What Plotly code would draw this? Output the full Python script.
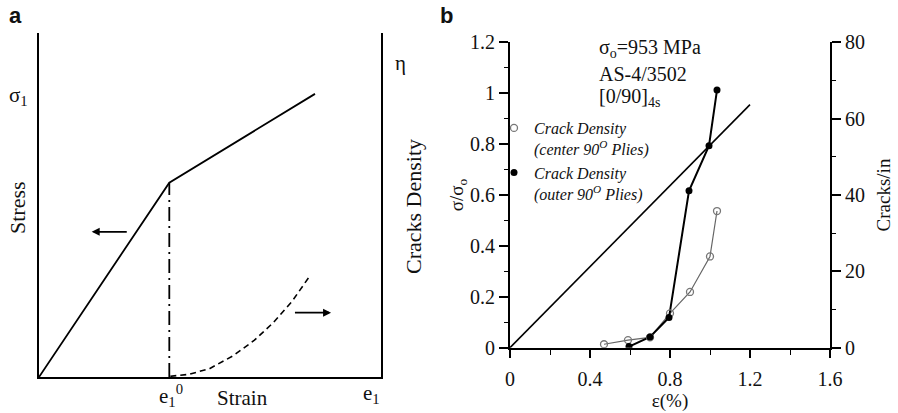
import plotly.graph_objects as go

# ---------------- data ----------------
# panel a (schematic, arbitrary units 0..10)
schem_strain = [0, 3.81, 8.07]
schem_stress = [0, 5.65, 8.23]
onset_strain = [3.81, 3.81]
onset_stress = [0, 5.65]
density_strain = [3.84, 4.4, 5.0, 5.68, 6.3, 6.85, 7.4, 7.92]
density_eta = [0.02, 0.08, 0.25, 0.62, 1.07, 1.58, 2.2, 2.94]

# panel b
line_strain = [0, 1.2]
line_stress = [0, 0.955]
center_strain = [0.47, 0.59, 0.70, 0.80, 0.90, 1.00, 1.035]
center_cracks = [0.9, 2.0, 2.7, 9.0, 14.6, 23.9, 35.8]
outer_strain = [0.595, 0.70, 0.795, 0.895, 0.995, 1.035]
outer_cracks = [0.3, 2.8, 7.9, 41.1, 52.9, 67.5]

x_ticks = [0, 0.4, 0.8, 1.2, 1.6]
y_ticks = [0, 0.2, 0.4, 0.6, 0.8, 1, 1.2]
y2_ticks = [0, 20, 40, 60, 80]

W, H = 898, 413
SERIF = "Liberation Serif"


def px(x):
    return x / W


def py(y):
    return 1 - y / H


fig = go.Figure()

# ---- panel a traces ----
fig.add_trace(go.Scatter(x=schem_strain, y=schem_stress, mode="lines",
                         line=dict(color="black", width=1.8),
                         xaxis="x3", yaxis="y3", showlegend=False))
fig.add_trace(go.Scatter(x=onset_strain, y=onset_stress, mode="lines",
                         line=dict(color="black", width=1.8, dash="14px,5px,2px,5px"),
                         xaxis="x3", yaxis="y3", showlegend=False))
fig.add_trace(go.Scatter(x=density_strain, y=density_eta, mode="lines",
                         line=dict(color="black", width=1.6, dash="6px,4px"),
                         xaxis="x3", yaxis="y3", showlegend=False))

# ---- panel b traces ----
fig.add_trace(go.Scatter(x=line_strain, y=line_stress, mode="lines",
                         line=dict(color="black", width=1.6),
                         xaxis="x", yaxis="y", showlegend=False))
fig.add_trace(go.Scatter(x=center_strain, y=center_cracks, mode="lines",
                         line=dict(color="#666", width=1.2),
                         xaxis="x", yaxis="y2", showlegend=False))
fig.add_trace(go.Scatter(x=outer_strain, y=outer_cracks, mode="lines",
                         line=dict(color="black", width=2),
                         xaxis="x", yaxis="y2", showlegend=False))
fig.add_trace(go.Scatter(x=center_strain, y=center_cracks, mode="markers",
                         marker=dict(symbol="circle-open", size=7, color="#777",
                                     line=dict(width=1.3, color="#777")),
                         name="Crack Density<br>(center 90<sup>O</sup> Plies)",
                         xaxis="x", yaxis="y2"))
fig.add_trace(go.Scatter(x=outer_strain, y=outer_cracks, mode="markers",
                         marker=dict(symbol="circle", size=7, color="black"),
                         name="Crack Density<br>(outer 90<sup>O</sup> Plies)",
                         xaxis="x", yaxis="y2"))

tickfont = dict(family=SERIF, size=20, color="#111")
axis_common = dict(showline=True, linecolor="black", linewidth=1.8,
                   showgrid=False, zeroline=False, tickcolor="black",
                   tickwidth=1.6, tickfont=tickfont, automargin=False)

annotations = []


def ann(text, x, y, size=20, angle=0, xanchor="center", family=SERIF, **kw):
    annotations.append(dict(text=text, x=px(x), y=py(y), xref="paper", yref="paper",
                            showarrow=False, textangle=angle, xanchor=xanchor,
                            yanchor="middle",
                            font=dict(family=family, size=size, color="#111"), **kw))


# panel labels
ann("<b>a</b>", 15, 15, size=22, family="Liberation Sans")
ann("<b>b</b>", 446, 15, size=22, family="Liberation Sans")

# panel a labels
ann("σ<sub>1</sub>", 18, 96, size=21)
ann("η", 400, 63, size=21)
ann("Stress", 17, 208, size=22, angle=-90)
ann("Cracks Density", 413, 207, size=22, angle=-90)
ann("e<sub>1</sub><sup>0</sup>", 171, 395, size=21)
ann("Strain", 242, 398, size=21)
ann("e<sub>1</sub>", 371, 394, size=21)

# panel b text block
ann("σ<sub>o</sub>=953 MPa", 597, 48, size=20, xanchor="left")
ann("AS-4/3502", 597, 74, size=20, xanchor="left")
ann("[0/90]<sub>4s</sub>", 597, 97, size=20, xanchor="left")

# arrows in panel a
annotations.append(dict(x=1.54, y=4.22, ax=2.61, ay=4.22, xref="x3", yref="y3",
                        axref="x3", ayref="y3", showarrow=True, arrowhead=2,
                        arrowsize=1, arrowwidth=1.6, arrowcolor="black", text=""))
annotations.append(dict(x=8.54, y=1.87, ax=7.44, ay=1.87, xref="x3", yref="y3",
                        axref="x3", ayref="y3", showarrow=True, arrowhead=2,
                        arrowsize=1, arrowwidth=1.6, arrowcolor="black", text=""))

fig.update_layout(
    width=W, height=H,
    margin=dict(l=0, r=0, t=0, b=0, pad=0, autoexpand=False),
    paper_bgcolor="white", plot_bgcolor="white",
    font=dict(family=SERIF, color="#111"),
    # panel b axes
    xaxis=dict(domain=[px(510), px(830)], range=[0, 1.6], tickvals=x_ticks,
               ticks="outside", ticklen=8, anchor="y",
               minor=dict(dtick=0.2, ticks="outside", ticklen=5, tickcolor="black", tickwidth=1.4),
               title=dict(text="ε(%)", font=dict(family=SERIF, size=19), standoff=2),
               ticklabelstandoff=4,
               **axis_common),
    yaxis=dict(domain=[py(347.7), py(42.3)], range=[0, 1.2], tickvals=y_ticks,
               ticks="outside", ticklen=9, anchor="x",
               minor=dict(dtick=0.1, ticks="outside", ticklen=4, tickcolor="black", tickwidth=1.4),
               title=dict(text="σ/σ<sub>o</sub>", font=dict(family=SERIF, size=19), standoff=0),
               **axis_common),
    yaxis2=dict(overlaying="y", side="right", anchor="x", range=[0, 80],
                tickvals=y2_ticks, ticks="outside", ticklen=9,
                minor=dict(dtick=10, ticks="outside", ticklen=4, tickcolor="black", tickwidth=1.4),
                title=dict(text="Cracks/in", font=dict(family=SERIF, size=19), standoff=13),
                **axis_common),
    # panel a axes
    xaxis3=dict(domain=[px(39), px(381)], range=[0, 10], anchor="y3",
                showline=True, linecolor="black", linewidth=2, showgrid=False,
                zeroline=False, showticklabels=False, ticks=""),
    yaxis3=dict(domain=[py(377), py(33)], range=[0, 10], anchor="x3",
                showline=True, mirror=True, linecolor="black", linewidth=2,
                showgrid=False, zeroline=False, showticklabels=False, ticks=""),
    legend=dict(x=px(494), y=py(111), xanchor="left", yanchor="top",
                bgcolor="rgba(0,0,0,0)", valign="top", tracegroupgap=0,
                font=dict(family=SERIF, size=16, style="italic", color="#111"),
                itemwidth=30),
    annotations=annotations,
    showlegend=True,
)

fig.write_html("out.html")
